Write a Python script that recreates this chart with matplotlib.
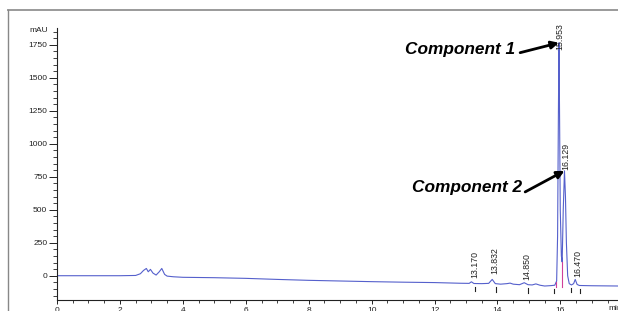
import numpy as np
import matplotlib
matplotlib.use("Agg")
import matplotlib.pyplot as plt
from matplotlib.lines import Line2D
from matplotlib.ticker import MultipleLocator

plt.rcParams['font.family'] = ['Liberation Sans', 'DejaVu Sans']

# ---- data ----
time_min = [0.0, 1.0, 2.0, 2.5, 2.65, 2.75, 2.84, 2.9, 2.97, 3.05, 3.15, 3.25, 3.33, 3.42,
            3.5, 3.7, 4.0, 5.0, 6.0, 7.0, 8.0, 9.0, 10.0, 11.0, 12.0, 12.8, 13.1, 13.17,
            13.25, 13.5, 13.72, 13.832, 13.93, 14.1, 14.3, 14.4, 14.5, 14.7, 14.85, 14.97,
            15.1, 15.22, 15.35, 15.5, 15.7, 15.82, 15.88, 15.91, 15.935, 15.953, 15.97,
            15.995, 16.03, 16.055, 16.09, 16.129, 16.16, 16.19, 16.23, 16.28, 16.35, 16.42,
            16.47, 16.53, 16.6, 17.0, 17.85]
signal_mau = [0, 0, 0, 2, 15, 40, 55, 30, 48, 20, 5, 30, 55, 10,
              -3, -8, -12, -15, -20, -28, -35, -40, -45, -49, -52, -57, -58, -46,
              -59, -60, -58, -28, -60, -64, -60, -56, -64, -68, -53, -68,
              -70, -62, -72, -78, -75, -72, -40, 300, 1200, 1765, 1300,
              500, 150, 104, 500, 795, 600, 250, 0, -60, -70, -60,
              -28, -66, -74, -76, -78]

peak_times = [13.170, 13.832, 14.850, 15.953, 16.129, 16.470]
peak_labels = ["13.170", "13.832", "14.850", "15.953", "16.129", "16.470"]
# label offsets (x px, y px) relative to peak apex
peak_label_offsets = [(3, 4), (3, 5), (3, 3), (1, -7), (1, 1), (3, 2)]

event_times = [13.29, 13.95, 14.97, 15.80, 16.33, 16.62]
split_times = [15.87, 16.055]

annotations = ["Component 1", "Component 2"]
annotation_targets = [15.953, 16.129]

y_ticks = [0, 250, 500, 750, 1000, 1250, 1500, 1750]
x_ticks = [0, 2, 4, 6, 8, 10, 12, 14, 16]

# ---- figure ----
W, H = 618, 311
fig = plt.figure(figsize=(W / 100, H / 100), dpi=100)
ax = fig.add_axes([57 / W, 1 - 300 / H, (W - 57) / W, (300 - 28) / H])

line_color = '#5560cc'
ax.plot(time_min, signal_mau, color=line_color, lw=0.8)

ax.set_xlim(0, 17.83)
ax.set_ylim(-184, 1877)

ax.spines['top'].set_visible(False)
ax.spines['right'].set_visible(False)
for s in ('left', 'bottom'):
    ax.spines[s].set_linewidth(0.8)
    ax.spines[s].set_color('#222222')

ax.set_yticks(y_ticks)
ax.set_xticks(x_ticks)
ax.set_xticklabels([str(t) for t in x_ticks])
ax.yaxis.set_minor_locator(MultipleLocator(50))
ax.xaxis.set_minor_locator(MultipleLocator(0.5))
ax.tick_params(axis='y', which='major', length=5.8, width=0.7, pad=1.2,
               labelsize=6, colors='#222222')
ax.tick_params(axis='y', which='minor', length=2.8, width=0.6, colors='#222222')
ax.tick_params(axis='x', which='major', length=3, width=0.7, pad=2.0,
               labelsize=6, colors='#222222')
ax.tick_params(axis='x', which='minor', length=2.2, width=0.6, colors='#222222')

# split / drop lines (pink) and integration event marks (black)
for t in split_times:
    yv = np.interp(t, time_min, signal_mau)
    ax.plot([t, t], [-88, yv], color='#d0409a', lw=0.8)
for t in event_times:
    yv = np.interp(t, time_min, signal_mau)
    ax.plot([t, t], [yv - 25, yv - 60], color='#222222', lw=0.8)

# peak retention time labels
for t, lab, (dx, dy) in zip(peak_times, peak_labels, peak_label_offsets):
    yv = np.interp(t, time_min, signal_mau)
    ax.annotate(lab, xy=(t, yv), xytext=(dx * 0.72, dy * 0.72),
                textcoords='offset points', rotation=90, ha='center', va='bottom',
                fontsize=6.3, color='#222222')

# component annotations
text_pos = [(14.56, 1712), (14.78, 665)]
tail_pos = [(14.72, 1690), (14.88, 635)]
head_px = [(-7, 1.5), (-1.5, -1)]
for lab, t, tp, tl, hp in zip(annotations, annotation_targets, text_pos, tail_pos, head_px):
    yv = np.interp(t, time_min, signal_mau)
    ax.text(tp[0], tp[1], lab, ha='right', va='center', fontsize=12.4,
            fontweight='bold', fontstyle='italic', color='black')
    ax.annotate('', xy=(t, yv), xytext=tl,
                arrowprops=dict(arrowstyle='-|>', lw=2.0, color='black',
                                mutation_scale=11, shrinkA=0, shrinkB=0,
                                relpos=(0, 0)))

# axis unit labels
fig.text(48 / W, 1 - 31 / H, 'mAU', ha='right', va='center', fontsize=6, color='#222222')
fig.text(608 / W, 1 - 309 / H, 'min', ha='left', va='center', fontsize=6, color='#222222')

# outer frame lines
fig.add_artist(Line2D([8 / W, 1], [1 - 10 / H, 1 - 10 / H], transform=fig.transFigure,
                      color='#9a9a9a', lw=1.4))
fig.add_artist(Line2D([8 / W, 8 / W], [1 - 10 / H, 0], transform=fig.transFigure,
                      color='#888888', lw=1.0))

fig.savefig('out.png', dpi=100)
